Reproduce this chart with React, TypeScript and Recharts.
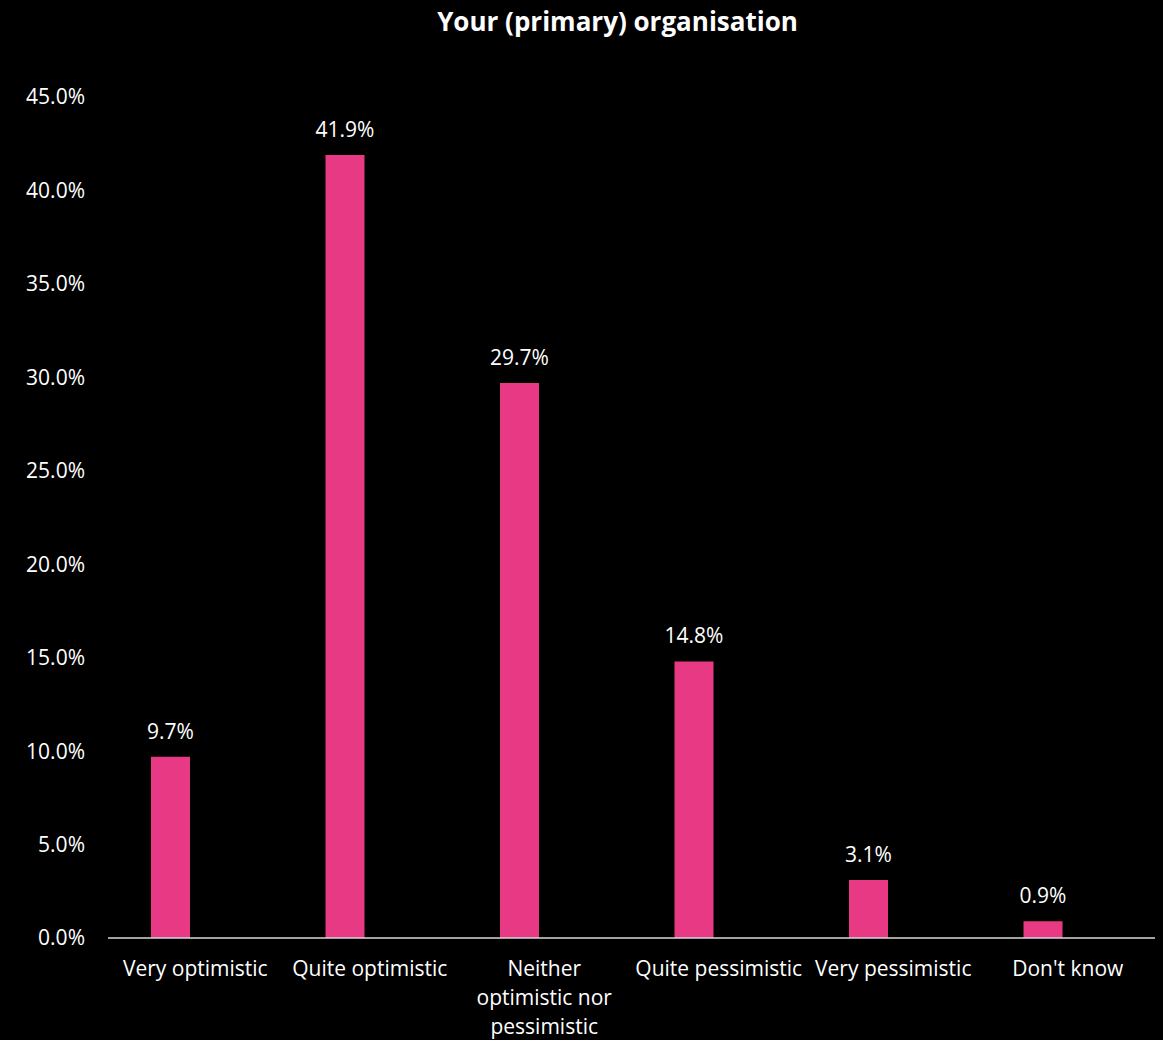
import { Bar, BarChart, LabelList, XAxis, YAxis } from "recharts";

const categories = [
  "Very optimistic",
  "Quite optimistic",
  "Neither optimistic nor pessimistic",
  "Quite pessimistic",
  "Very pessimistic",
  "Don't know",
];

// how the category labels wrap under the axis
const tickLines = [
  ["Very optimistic"],
  ["Quite optimistic"],
  ["Neither", "optimistic nor", "pessimistic"],
  ["Quite pessimistic"],
  ["Very pessimistic"],
  ["Don't know"],
];

const shares = [9.7, 41.9, 29.7, 14.8, 3.1, 0.9];

// the source chart has an empty second series, which pushes the bars left of the label
const emptySeries = [null, null, null, null, null, null];

const yTicks = [0, 5, 10, 15, 20, 25, 30, 35, 40, 45];

const data = categories.map((name, i) => ({
  name,
  lines: tickLines[i],
  value: shares[i],
  empty: emptySeries[i],
}));

const FONT = "'Open Sans', sans-serif";
const PINK = "#e83a84";

const pct = (v: number) => `${Number(v).toFixed(1)}%`;

function CategoryTick(props: any) {
  const { x, y, index } = props;
  const lines = tickLines[index] || [];
  return (
    <text x={x} y={y} textAnchor="middle" fill="#ffffff" fontSize={21} fontFamily={FONT}>
      {lines.map((line, i) => (
        <tspan key={i} x={x} dy={i === 0 ? 38 : 29}>
          {line}
        </tspan>
      ))}
    </text>
  );
}

export default function App() {
  return (
    <div
      style={{
        position: "absolute",
        left: 0,
        top: 0,
        width: 1163,
        height: 1040,
        background: "#000000",
        fontFamily: FONT,
      }}
    >
      <div
        style={{
          position: "absolute",
          left: 0,
          width: 1235,
          top: 4,
          textAlign: "center",
          color: "#ffffff",
          fontWeight: 700,
          fontSize: 26,
          lineHeight: "34px",
        }}
      >
        Your (primary) organisation
      </div>
      <BarChart
        width={1163}
        height={1040}
        data={data}
        margin={{ top: 97, right: 8, bottom: 0, left: 10 }}
        barSize={39}
        barGap={10}
      >
        <XAxis
          dataKey="name"
          height={102}
          tickSize={0}
          tickMargin={0}
          interval={0}
          tick={<CategoryTick />}
          axisLine={{ stroke: "#d9d9d9", strokeWidth: 1.5 }}
          tickLine={false}
        />
        <YAxis
          width={98}
          domain={[0, 45]}
          ticks={yTicks}
          tickFormatter={pct}
          tickSize={0}
          tickMargin={23}
          axisLine={false}
          tickLine={false}
          tick={{ fill: "#ffffff", fontSize: 21, fontFamily: FONT }}
        />
        <Bar dataKey="value" fill={PINK} isAnimationActive={false}>
          <LabelList
            dataKey="value"
            position="top"
            offset={18}
            formatter={(v: any) => pct(v)}
            fill="#ffffff"
            fontSize={21}
            fontFamily={FONT}
          />
        </Bar>
        <Bar dataKey="empty" fill={PINK} isAnimationActive={false} />
      </BarChart>
    </div>
  );
}
